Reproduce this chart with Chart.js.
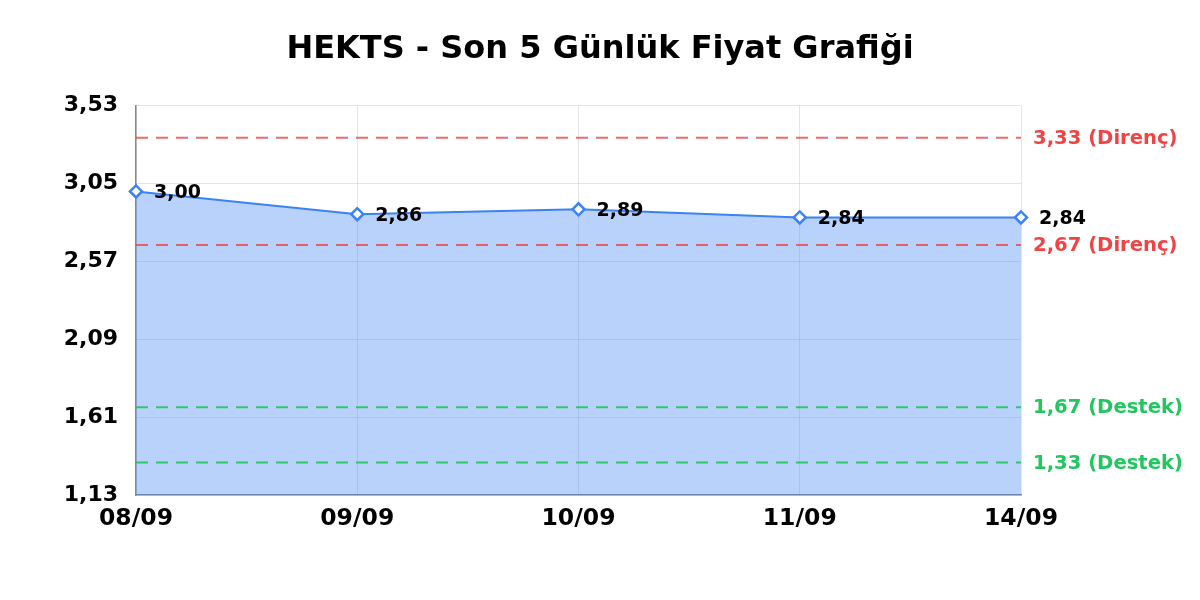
<!DOCTYPE html>
<html>
<head>
<meta charset="utf-8">
<script src="https://cdn.jsdelivr.net/npm/chart.js@4/dist/chart.umd.min.js"></script>
<style>
  html, body { margin: 0; padding: 0; background: #ffffff; }
  #wrap { width: 1200px; height: 600px; }
</style>
</head>
<body>
<div id="wrap"><canvas id="c" width="1200" height="600"></canvas></div>
<script>
const titleText = 'HEKTS - Son 5 Günlük Fiyat Grafiği';
const labels = ['08/09', '09/09', '10/09', '11/09', '14/09'];
const prices = [3.00, 2.86, 2.89, 2.84, 2.84];
const yTicks = [1.13, 1.61, 2.09, 2.57, 3.05, 3.53];
const resistanceLevels = [3.33, 2.67];
const supportLevels = [1.67, 1.33];

const FONT = '"DejaVu Sans", "Liberation Sans", sans-serif';
const fmt = v => v.toFixed(2).replace('.', ',');

const levelsPlugin = {
  id: 'levels',
  afterDatasetsDraw(chart) {
    const { ctx, chartArea, scales } = chart;
    const drawLine = (v, color) => {
      const y = scales.y.getPixelForValue(v);
      ctx.save();
      ctx.strokeStyle = color;
      ctx.lineWidth = 2;
      ctx.setLineDash([12, 8]);
      ctx.beginPath();
      ctx.moveTo(chartArea.left, y);
      ctx.lineTo(chartArea.right, y);
      ctx.stroke();
      ctx.restore();
    };
    resistanceLevels.forEach(v => drawLine(v, 'rgba(239,68,68,0.8)'));
    supportLevels.forEach(v => drawLine(v, 'rgba(34,197,94,0.9)'));

    ctx.save();
    ctx.font = 'bold 19.6px ' + FONT;
    ctx.textAlign = 'left';
    ctx.textBaseline = 'middle';
    resistanceLevels.forEach(v => {
      ctx.fillStyle = '#ef4444';
      ctx.fillText(fmt(v) + ' (Direnç)', chartArea.right + 12, scales.y.getPixelForValue(v) + 1);
    });
    supportLevels.forEach(v => {
      ctx.fillStyle = '#22c55e';
      ctx.fillText(fmt(v) + ' (Destek)', chartArea.right + 12, scales.y.getPixelForValue(v) + 1);
    });
    // data labels
    const meta = chart.getDatasetMeta(0);
    ctx.font = 'bold 19px ' + FONT;
    ctx.fillStyle = '#000000';
    meta.data.forEach((pt, i) => {
      ctx.fillText(fmt(prices[i]), pt.x + 18, pt.y + 2);
    });
    ctx.restore();
  }
};

new Chart(document.getElementById('c'), {
  type: 'line',
  data: {
    labels: labels,
    datasets: [{
      data: prices,
      yAxisID: 'y',
      borderColor: '#3b82f6',
      borderWidth: 2,
      backgroundColor: 'rgba(59,130,246,0.36)',
      fill: 'start',
      tension: 0,
      pointStyle: 'rectRot',
      pointRadius: 6,
      pointBorderWidth: 2.5,
      pointBackgroundColor: '#ffffff',
      pointBorderColor: '#3b82f6'
    }]
  },
  options: {
    responsive: false,
    animation: false,
    devicePixelRatio: 1,
    layout: { padding: { top: 0, right: 0, bottom: 0, left: 0 } },
    plugins: {
      legend: { display: false },
      tooltip: { enabled: false },
      title: {
        display: true,
        text: titleText,
        color: '#000000',
        font: { family: FONT, size: 32, weight: 'bold' },
        padding: { top: 30, bottom: 37 }
      }
    },
    scales: {
      x: {
        type: 'category',
        offset: false,
        grid: { color: 'rgba(0,0,0,0.1)', drawTicks: false },
        border: { color: '#888888', width: 1.5 },
        ticks: { color: '#000000', font: { family: FONT, size: 23.5, weight: 'bold' }, padding: 10, maxRotation: 0, autoSkip: false },
        afterFit(scale) { scale.height = 105; }
      },
      y: {
        position: 'left',
        min: yTicks[0],
        max: yTicks[yTicks.length - 1],
        grid: { color: 'rgba(0,0,0,0.1)', drawTicks: false },
        border: { color: '#888888', width: 1.5 },
        ticks: {
          color: '#000000',
          font: { family: FONT, size: 22, weight: 'bold' },
          padding: 18,
          callback: v => fmt(v)
        },
        afterBuildTicks(scale) { scale.ticks = yTicks.map(v => ({ value: v })); },
        afterFit(scale) { scale.width = 136; }
      },
      yRight: {
        position: 'right',
        min: yTicks[0],
        max: yTicks[yTicks.length - 1],
        grid: { display: false, drawTicks: false },
        border: { display: false },
        ticks: { display: false },
        afterFit(scale) { scale.width = 179; }
      }
    }
  },
  plugins: [levelsPlugin]
});
</script>
</body>
</html>
